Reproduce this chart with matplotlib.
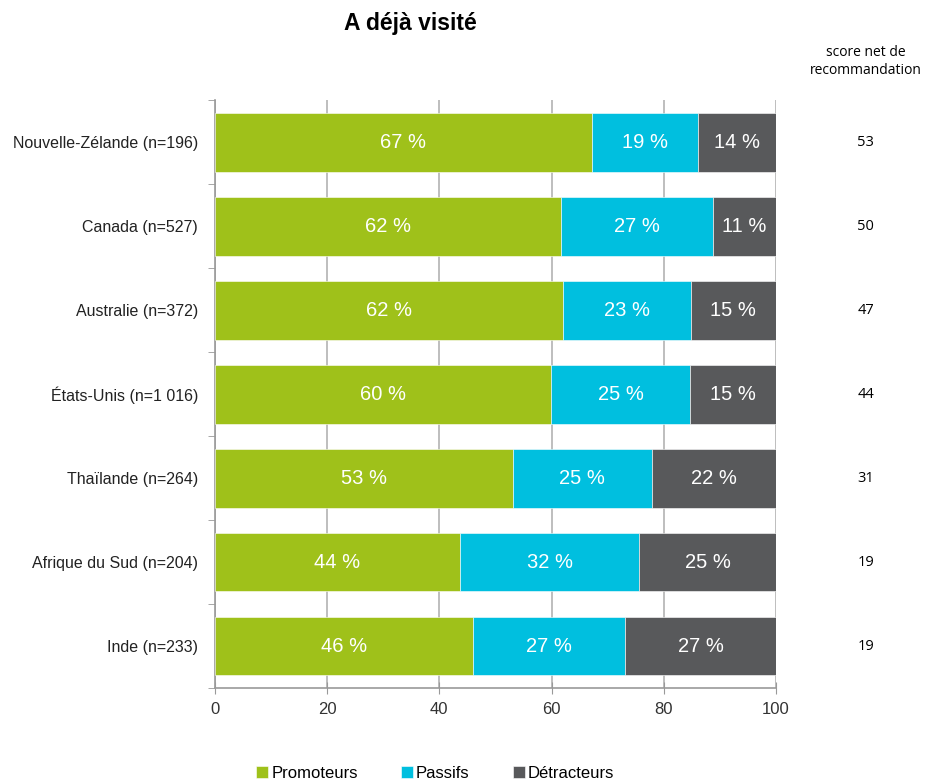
import matplotlib
matplotlib.use("Agg")
import matplotlib.pyplot as plt
import numpy as np

pays = ['Nouvelle-Zélande (n=196)', 'Canada (n=527)', 'Australie (n=372)',
        'États-Unis (n=1 016)', 'Thaïlande (n=264)', 'Afrique du Sud (n=204)',
        'Inde (n=233)']
promoteurs = [67.2, 61.7, 62.0, 59.9, 53.1, 43.7, 46.0]
passifs = [18.9, 27.1, 22.8, 24.8, 24.8, 31.9, 27.1]
detracteurs = [13.9, 11.2, 15.2, 15.3, 22.1, 24.4, 26.9]
lbl_prom = [67, 62, 62, 60, 53, 44, 46]
lbl_pass = [19, 27, 23, 25, 25, 32, 27]
lbl_detr = [14, 11, 15, 15, 22, 25, 27]
score_net = [53, 50, 47, 44, 31, 19, 19]

plt.rcParams['font.family'] = ['Liberation Sans', 'DejaVu Sans']

fig = plt.figure(figsize=(9.26, 7.84), dpi=100)
ax = fig.add_axes([0.232, 0.1224, 0.606, 0.7496])

y = np.arange(len(pays))[::-1]
couleurs = ['#9FC11A', '#00BFDF', '#58595B']
series = [promoteurs, passifs, detracteurs]
labels = [lbl_prom, lbl_pass, lbl_detr]
noms = ['Promoteurs', 'Passifs', 'Détracteurs']

gauche = np.zeros(len(pays))
for vals, lbls, c, nom in zip(series, labels, couleurs, noms):
    vals = np.array(vals)
    ax.barh(y, vals, left=gauche, height=0.7, color=c, label=nom,
            edgecolor='white', linewidth=0.4, zorder=3)
    for yi, l, v, lb in zip(y, gauche, vals, lbls):
        ax.text(l + v / 2, yi, f'{lb} %', ha='center', va='center',
                color='white', fontsize=14.5, zorder=4)
    gauche += vals

ax.set_xlim(0, 100)
ax.set_ylim(-0.5, len(pays) - 0.5)
ax.set_xticks(range(0, 101, 20))
ax.xaxis.grid(True, color='#B3B3B3', linewidth=1.2, zorder=0)
ax.set_yticks(y)
ax.set_yticklabels(pays, fontsize=11.5, color='#222222')
ax.set_yticks(np.arange(-0.5, len(pays), 1), minor=True)
ax.tick_params(axis='y', which='major', length=0, pad=12)
ax.tick_params(axis='y', which='minor', length=5, direction='out', color='#999999')
ax.tick_params(axis='x', length=8, direction='inout', color='#999999',
               labelsize=12, labelcolor='#333333', pad=6)
for s in ['top', 'right']:
    ax.spines[s].set_visible(False)
for s in ['left', 'bottom']:
    ax.spines[s].set_color('#999999')
    ax.spines[s].set_linewidth(1.2)

for yi, sc in zip(y, score_net):
    ax.text(1.16, yi, str(sc), transform=ax.get_yaxis_transform(),
            ha='center', va='center', fontsize=10.5, family='Open Sans')

fig.text(0.935, 0.922, 'score net de\nrecommandation', ha='center', va='center',
         fontsize=10, family='Open Sans', linespacing=1.3)
fig.text(0.443, 0.97, 'A déjà visité', ha='center', va='center',
         fontsize=16.5, fontweight='bold')

fig.legend(loc='lower center', bbox_to_anchor=(0.47, -0.015), ncol=3,
           frameon=False, fontsize=12, handlelength=0.7, handleheight=0.7,
           handletextpad=0.2, columnspacing=2.6)

fig.savefig('out.png', dpi=100)
